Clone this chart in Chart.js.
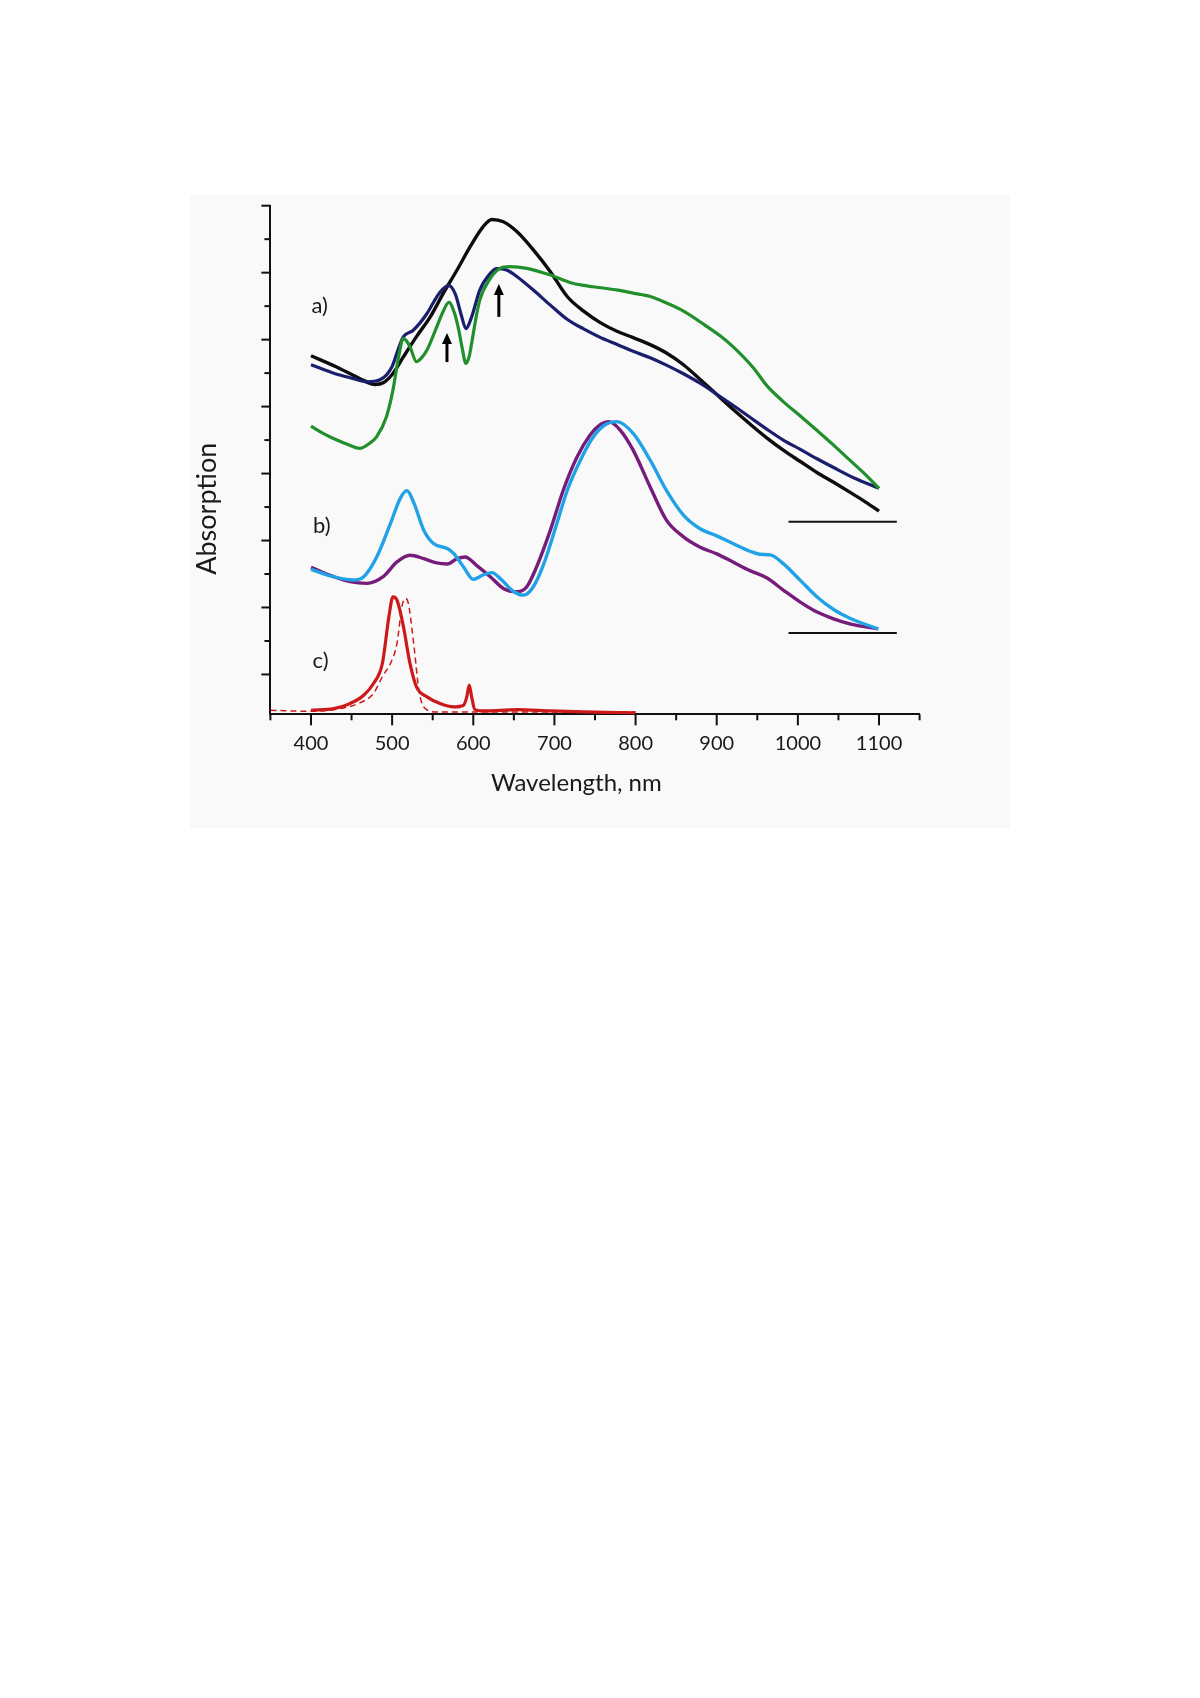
<!DOCTYPE html>
<html><head><meta charset="utf-8">
<script src="https://cdn.jsdelivr.net/npm/chart.js@4.4.1/dist/chart.umd.min.js"></script>
<style>
html,body{margin:0;padding:0;background:#fff;}
#wrap{position:relative;width:1200px;height:1698px;}
#panel{position:absolute;left:190px;top:195px;width:820px;height:633px;background:#f9f9f9;}
canvas{position:absolute;left:0;top:0;}
</style></head><body>
<div id="wrap"><div id="panel"></div><canvas id="c" width="1200" height="1698"></canvas></div>
<script>
// ---- data (wavelength nm, absorption in arbitrary offset units) ----
const blackNm  = [400,431,460,479,489,501,514,530,547,563,580,596,612,623,637,654,674,695,716,736,757,777,797,818,838,859,880,900,920,941,962,982,1003,1023,1044,1067,1084,1100];
const blackAbs = [9.52,9.19,8.84,8.66,8.71,8.99,9.49,10.09,10.68,11.38,12.08,12.77,13.37,13.59,13.52,13.22,12.68,12.03,11.28,10.85,10.5,10.25,10.06,9.85,9.6,9.25,8.8,8.36,7.92,7.48,7.06,6.7,6.36,6.04,5.74,5.4,5.14,4.88];

const navyNm  = [400,430,450,469,485,500,508,514,526,543,555,563,570,578,585,591,598,608,621,629,641,654,674,695,716,736,757,778,797,818,838,859,880,900,920,941,962,982,1003,1023,1044,1070,1100];
const navyAbs = [9.25,8.98,8.85,8.74,8.8,9.2,9.75,10.09,10.28,10.78,11.28,11.52,11.61,11.35,10.75,10.33,10.68,11.48,11.98,12.12,12.08,11.88,11.48,11.03,10.6,10.32,10.06,9.85,9.65,9.46,9.24,8.98,8.69,8.37,8.04,7.68,7.32,7.0,6.72,6.45,6.18,5.86,5.56];

const greenNm  = [400,415,432,447,460,472,481,493,501,508,514,518,522,530,536,543,555,563,570,577,582,586,591,595,598,603,608,621,633,645,666,695,720,736,757,778,797,818,830,857,885,905,920,945,962,982,1003,1023,1044,1064,1082,1100];
const greenAbs = [7.42,7.2,7.0,6.85,6.75,6.9,7.1,7.7,8.49,9.49,10.04,9.95,9.79,9.34,9.45,9.69,10.38,10.85,11.11,10.78,10.3,9.79,9.29,9.5,9.89,10.6,11.18,11.83,12.13,12.18,12.13,11.93,11.7,11.62,11.55,11.48,11.39,11.29,11.18,10.88,10.44,10.1,9.79,9.16,8.62,8.15,7.72,7.3,6.85,6.4,6.0,5.56];

const blueNm  = [400,427,452,465,481,498,510,518,527,539,551,568,576,588,600,612,623,633,650,662,674,687,703,716,732,748,762,777,797,818,838,859,879,900,920,941,953,966,982,1003,1023,1044,1064,1099];
const blueAbs = [3.14,2.92,2.82,2.92,3.51,4.51,5.26,5.49,5.11,4.31,3.91,3.76,3.61,3.21,2.84,2.97,3.04,2.87,2.47,2.37,2.62,3.31,4.51,5.51,6.4,7.1,7.45,7.55,7.2,6.4,5.5,4.76,4.36,4.14,3.91,3.68,3.59,3.57,3.31,2.81,2.33,1.94,1.68,1.36];

const purpleNm  = [400,428,448,469,489,506,522,539,555,568,580,590,604,621,637,654,666,678,695,711,728,744,756,767,781,797,818,838,859,879,900,920,941,962,982,1003,1023,1044,1064,1099];
const purpleAbs = [3.2,2.92,2.77,2.72,2.92,3.36,3.56,3.46,3.33,3.3,3.46,3.51,3.26,2.92,2.57,2.47,2.62,3.21,4.31,5.51,6.5,7.15,7.45,7.55,7.3,6.7,5.6,4.61,4.11,3.81,3.6,3.36,3.1,2.88,2.52,2.16,1.87,1.66,1.51,1.36];

const redNm  = [400,428,448,465,477,488,496,501,506,514,522,530,543,559,576,588,592,595,598,602,613,654,695,736,800];
const redAbs = [-1.07,-1.02,-0.87,-0.62,-0.27,0.33,1.72,2.32,2.22,1.42,0.33,-0.37,-0.67,-0.87,-0.97,-0.92,-0.67,-0.32,-0.67,-1.05,-1.09,-1.05,-1.09,-1.12,-1.15];

const redDashNm  = [350,400,440,460,477,489,498,506,512,516,520,527,533,539,555,800];
const redDashAbs = [-1.07,-1.1,-1.0,-0.85,-0.57,-0.02,0.33,0.93,2.02,2.27,2.12,0.83,-0.47,-0.97,-1.12,-1.12];

const baselineNm = [988.5, 1121.9];
const baselineA  = [4.56, 4.56];
const baselineB  = [1.24, 1.24];

const xTickLabels = ['400','500','600','700','800','900','1000','1100'];
const yTicks = [0,1,2,3,4,5,6,7,8,9,10,11,12,13,14];

const panelLabels   = ['a)','b)','c)'];
const panelLabelNm  = [400.5, 402.5, 402];
const panelLabelAbs = [10.79, 4.22, 0.19];

const arrowNm   = [567.6, 631.5];
const arrowTip  = [10.2, 11.66];
const arrowTail = [9.33, 10.68];

const xTitle = 'Wavelength, nm';
const yTitle = 'Absorption';

// ---- helpers ----
const pts = (xs, ys) => xs.map((x, i) => ({x, y: ys[i]}));
const line = (data, color, width, extra) => Object.assign({
  data, borderColor: color, borderWidth: width, pointRadius: 0,
  cubicInterpolationMode: 'monotone', fill: false
}, extra || {});

const FONT = 'Lato, "Open Sans", sans-serif';

const deco = {
  id: 'deco',
  afterDraw(chart) {
    const {ctx, chartArea: ca, scales: {x, y}} = chart;
    ctx.save();
    ctx.strokeStyle = '#111';
    ctx.lineWidth = 2;
    ctx.lineCap = 'butt';
    // y ticks (major long, minor short)
    yTicks.forEach(v => {
      const py = y.getPixelForValue(v);
      const len = (v % 2 === 0) ? 9 : 6;
      ctx.beginPath(); ctx.moveTo(ca.left - len, py); ctx.lineTo(ca.left, py); ctx.stroke();
    });
    // x ticks
    x.ticks.forEach(t => {
      const px = x.getPixelForValue(t.value);
      const len = (t.value % 100 === 0) ? 11 : 6;
      ctx.beginPath(); ctx.moveTo(px, ca.bottom); ctx.lineTo(px, ca.bottom + len); ctx.stroke();
    });
    // axis titles
    ctx.fillStyle = '#1a1a1a';
    ctx.font = '24px ' + FONT;
    ctx.textAlign = 'center';
    ctx.textBaseline = 'alphabetic';
    ctx.fillText(xTitle, x.getPixelForValue(727), ca.bottom + 77);
    ctx.save();
    ctx.translate(ca.left - 54, y.getPixelForValue(4.95));
    ctx.rotate(-Math.PI / 2);
    ctx.font = '27px ' + FONT;
    ctx.fillText(yTitle, 0, 0);
    ctx.restore();
    // panel labels
    ctx.font = '22px ' + FONT;
    ctx.textAlign = 'left';
    panelLabels.forEach((t, i) => {
      ctx.fillText(t, x.getPixelForValue(panelLabelNm[i]), y.getPixelForValue(panelLabelAbs[i]));
    });
    // arrows
    ctx.fillStyle = '#000';
    ctx.strokeStyle = '#000';
    ctx.lineWidth = 3;
    arrowNm.forEach((nm, i) => {
      const px = x.getPixelForValue(nm);
      const tip = y.getPixelForValue(arrowTip[i]);
      const tail = y.getPixelForValue(arrowTail[i]);
      ctx.beginPath(); ctx.moveTo(px, tail); ctx.lineTo(px, tip + 8); ctx.stroke();
      ctx.beginPath(); ctx.moveTo(px, tip); ctx.lineTo(px - 5, tip + 11); ctx.lineTo(px + 5, tip + 11); ctx.closePath(); ctx.fill();
    });
    ctx.restore();
  }
};

new Chart(document.getElementById('c'), {
  type: 'line',
  data: {
    datasets: [
      line(pts(redDashNm, redDashAbs), '#cc1a1a', 1.5, {borderDash: [6, 4]}),
      line(pts(redNm, redAbs), '#cc1a1a', 3.2),
      line(pts(blueNm, blueAbs), '#22a2e6', 3.4),
      line(pts(purpleNm, purpleAbs), '#761c7a', 3.4),
      line(pts(greenNm, greenAbs), '#21902c', 3.2),
      line(pts(navyNm, navyAbs), '#1b1e6c', 3.2),
      line(pts(blackNm, blackAbs), '#0d0d0d', 3.4),
      line(pts(baselineNm, baselineA), '#111', 2, {tension: 0}),
      line(pts(baselineNm, baselineB), '#111', 2, {tension: 0})
    ]
  },
  options: {
    responsive: false,
    animation: false,
    devicePixelRatio: 1,
    layout: {padding: {left: 270.4, right: 280.4, top: 205.7, bottom: 1698 - 714.3 - 50}},
    plugins: {legend: {display: false}, tooltip: {enabled: false}, title: {display: false}},
    scales: {
      x: {
        type: 'linear', min: 350, max: 1150, position: 'bottom',
        ticks: {
          stepSize: 50, autoSkip: false, maxRotation: 0, padding: 9, color: '#1a1a1a',
          font: {family: FONT, size: 20},
          callback: v => xTickLabels.includes(String(v)) ? String(v) : ''
        },
        grid: {display: false},
        border: {display: true, color: '#111', width: 2},
        afterFit: s => { s.height = 50; }
      },
      y: {
        type: 'linear', min: -1.19, max: 14,
        afterBuildTicks: s => { s.ticks = yTicks.map(v => ({value: v})); },
        ticks: {display: false},
        grid: {display: false},
        border: {display: true, color: '#111', width: 2},
        afterFit: s => { s.width = 0; }
      }
    }
  },
  plugins: [deco]
});
</script>
</body></html>
